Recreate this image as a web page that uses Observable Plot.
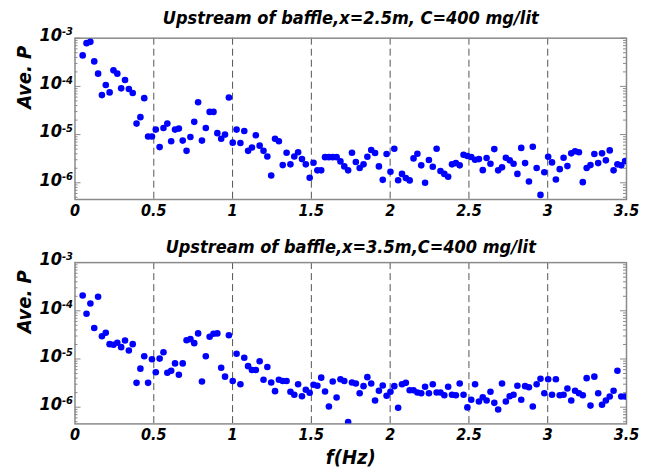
<!DOCTYPE html>
<html><head><meta charset="utf-8">
<script src="https://cdn.jsdelivr.net/npm/d3@7"></script>
<script src="https://cdn.jsdelivr.net/npm/@observablehq/plot@0.6"></script>
<style>
html,body{margin:0;padding:0;background:#fff;overflow:hidden}
#chart svg{display:block}
</style>
</head><body><div id="chart"></div>
<script>
const freq = [0.0488,0.0732,0.0977,0.1221,0.1465,0.1709,0.1953,0.2197,0.2441,0.2686,
0.2930,0.3174,0.3418,0.3662,0.3906,0.4150,0.4395,0.4639,0.4883,0.5127,
0.5371,0.5615,0.5859,0.6104,0.6348,0.6592,0.6836,0.7080,0.7324,0.7568,
0.7813,0.8057,0.8301,0.8545,0.8789,0.9033,0.9277,0.9521,0.9766,1.0010,
1.0254,1.0498,1.0742,1.0986,1.1230,1.1475,1.1719,1.1963,1.2207,1.2451,
1.2695,1.2939,1.3184,1.3428,1.3672,1.3916,1.4160,1.4404,1.4648,1.4893,
1.5137,1.5381,1.5625,1.5869,1.6113,1.6357,1.6602,1.6846,1.7090,1.7334,
1.7578,1.7822,1.8066,1.8311,1.8555,1.8799,1.9043,1.9287,1.9531,1.9775,
2.0020,2.0264,2.0508,2.0752,2.0996,2.1240,2.1484,2.1729,2.1973,2.2217,
2.2461,2.2705,2.2949,2.3193,2.3438,2.3682,2.3926,2.4170,2.4414,2.4658,
2.4902,2.5146,2.5391,2.5635,2.5879,2.6123,2.6367,2.6611,2.6855,2.7100,
2.7344,2.7588,2.7832,2.8076,2.8320,2.8564,2.8809,2.9053,2.9297,2.9541,
2.9785,3.0029,3.0273,3.0518,3.0762,3.1006,3.1250,3.1494,3.1738,3.1982,
3.2227,3.2471,3.2715,3.2959,3.3203,3.3447,3.3691,3.3936,3.4180,3.4424,
3.4668,3.4912];

const pX25 = [4.4e-4,7.9e-4,8.4e-4,3.3e-4,1.84e-4,6.6e-5,1.07e-4,7.5e-5,2.15e-4,1.84e-4,
9.1e-5,1.36e-4,8.8e-5,7.3e-5,1.69e-5,2.3e-5,5.7e-5,9.1e-6,9.1e-6,1.27e-5,
5.5e-6,1.37e-5,1.69e-5,7.3e-6,1.27e-5,1.33e-5,7.5e-6,4.6e-6,8.9e-6,1.84e-5,
4.7e-5,7.5e-6,1.37e-5,2.96e-5,2.96e-5,1.07e-5,8.2e-6,1.0e-5,5.9e-5,6.8e-6,
1.27e-5,6.7e-6,1.19e-5,4.6e-6,5.4e-6,9.7e-6,5.9e-6,4.6e-6,3.5e-6,1.42e-6,
8.2e-6,7.3e-6,2.33e-6,4.2e-6,2.41e-6,3.5e-6,4.3e-6,3.1e-6,2.41e-6,1.27e-6,
2.6e-6,1.81e-6,1.81e-6,3.4e-6,3.4e-6,3.4e-6,3.4e-6,2.78e-6,2.19e-6,1.81e-6,
4.2e-6,2.69e-6,2.02e-6,2.41e-6,3.47e-6,4.8e-6,4.14e-6,2.19e-6,1.15e-6,3.95e-6,
1.69e-6,5.1e-6,1.13e-6,1.53e-6,1.25e-6,1.12e-6,3.21e-6,4.0e-6,2.30e-6,1.0e-6,
2.96e-6,2.15e-6,5.1e-6,1.75e-6,1.53e-6,1.33e-6,2.41e-6,2.56e-6,2.30e-6,3.82e-6,
3.59e-6,3.42e-6,3.0e-6,3.1e-6,1.83e-6,3.26e-6,2.48e-6,5.0e-6,1.81e-6,2.09e-6,
3.31e-6,2.92e-6,2.48e-6,1.53e-6,5.3e-6,2.56e-6,1.06e-6,5.6e-6,2.02e-6,5.6e-7,
1.66e-6,3.47e-6,2.65e-6,1.17e-6,1.92e-6,3.31e-6,2.22e-6,4.08e-6,4.5e-6,4.3e-6,
1.03e-6,2.02e-6,2.33e-6,3.95e-6,2.56e-6,4.08e-6,2.92e-6,4.7e-6,1.81e-6,2.41e-6,
2.30e-6,2.82e-6];

const pX35 = [2.08e-4,8.7e-5,1.42e-4,4.4e-5,1.95e-4,2.97e-5,3.5e-5,2.03e-5,1.97e-5,2.17e-5,
1.76e-5,2.42e-5,1.50e-5,2.03e-5,3.2e-6,6.3e-6,1.14e-5,3.2e-6,9.9e-6,5.3e-6,
1.02e-5,1.38e-5,5.2e-6,5.7e-6,8.1e-6,4.7e-6,8.1e-6,2.45e-5,2.58e-5,2.13e-5,
3.4e-5,3.4e-6,1.14e-5,2.89e-5,3.33e-5,3.4e-5,6.6e-6,4.3e-6,3.1e-5,3.5e-6,
1.28e-5,3.0e-6,1.06e-5,7.1e-6,5.9e-6,5.9e-6,9.0e-6,3.7e-6,6.8e-6,3.25e-6,
2.15e-6,3.7e-6,3.5e-6,3.5e-6,2.09e-6,1.81e-6,3.0e-6,1.69e-6,2.30e-6,1.99e-6,
2.92e-6,2.78e-6,4.1e-6,2.12e-6,1.03e-6,3.4e-6,1.59e-6,3.8e-6,3.5e-6,4.9e-7,
3.25e-6,3.1e-6,1.95e-6,2.73e-6,4.2e-6,3.1e-6,1.38e-6,2.19e-6,2.82e-6,1.73e-6,
2.09e-6,2.73e-6,9.7e-7,3.0e-6,3.2e-6,2.25e-6,2.25e-6,2.02e-6,1.95e-6,2.65e-6,
1.95e-6,3.0e-6,2.02e-6,2.02e-6,1.77e-6,2.65e-6,1.81e-6,1.77e-6,3.1e-6,1.81e-6,
9.9e-7,1.43e-6,3.0e-6,1.31e-6,1.61e-6,1.38e-6,2.09e-6,1.23e-6,8.95e-7,3.1e-6,
1.31e-6,1.69e-6,1.81e-6,2.78e-6,1.43e-6,2.73e-6,2.6e-6,1.03e-6,3.0e-6,3.9e-6,
1.95e-6,3.8e-6,1.81e-6,3.8e-6,1.77e-6,1.81e-6,2.44e-6,1.38e-6,2.19e-6,1.95e-6,
1.77e-6,4.0e-6,1.08e-6,4.3e-6,1.95e-6,1.12e-6,1.38e-6,1.67e-6,2.19e-6,5.7e-6,
1.67e-6,1.67e-6];

const xTicks = [0, 0.5, 1, 1.5, 2, 2.5, 3, 3.5];
const gridX = [0.5, 1, 1.5, 2, 2.5, 3];
const yTicks = [1e-6, 1e-5, 1e-4, 1e-3];
const yDomain = [4.5e-7, 1e-3];
const titles = ["Upstream of baffle,x=2.5m, C=400 mg/lit", "Upstream of baffle,x=3.5m,C=400 mg/lit"];
const yLabel = "Ave. P";
const xLabel = "f(Hz)";

const FONT = "'Liberation Sans Narrow','DejaVu Sans Condensed','Arial Narrow',sans-serif";
const frameColor = "#8a8a8a";
const W = 649, H = 236, ML = 74.5, MR = 23;
const plotW = W - ML - MR;
const minor = d3.scaleLog().domain(yDomain).ticks();
const minorOnly = minor.filter(d => !yTicks.some(t => Math.abs(t - d) / t < 1e-9));

function panel(values, title, mt, mb, titleDy, showX) {
  const data = freq.map((f, i) => ({f, p: values[i]}));
  const marks = [
    Plot.ruleX(gridX, {stroke: "#555", strokeDasharray: "7,4", strokeWidth: 1}),
    Plot.tickY(minorOnly, {y: d => d, stroke: frameColor, insetRight: plotW - 3}),
    Plot.tickY(minorOnly, {y: d => d, stroke: frameColor, insetLeft: plotW - 3}),
    Plot.tickY(yTicks, {y: d => d, stroke: frameColor, insetRight: plotW - 6}),
    Plot.tickY(yTicks, {y: d => d, stroke: frameColor, insetLeft: plotW - 6}),
    Plot.frame({stroke: frameColor, strokeWidth: 1.5}),
    Plot.axisY({anchor: "left", ticks: yTicks, tickSize: 0, tickPadding: 2,
      tickFormat: d => "10^" + Math.round(Math.log10(d)), label: null}),
    Plot.axisX({anchor: "bottom", ticks: xTicks, tickSize: 0, tickPadding: 5,
      tickFormat: d => String(d), label: null}),
    Plot.dot(data, {x: "f", y: "p", r: 3.3, fill: "#0000ff", stroke: "none", clip: true}),
    Plot.text([title], {text: d => d, frameAnchor: "top", dy: titleDy, lineAnchor: "middle", fontSize: 18}),
    Plot.text([yLabel], {text: d => d, frameAnchor: "left", rotate: -90, dx: -50, dy: -10, fontSize: 20, lineAnchor: "middle"})
  ];
  if (showX) marks.push(Plot.text([xLabel], {text: d => d, frameAnchor: "bottom", dy: 34, lineAnchor: "middle", fontSize: 20}));
  const svg = Plot.plot({
    width: W, height: H,
    marginLeft: ML, marginRight: MR, marginTop: mt, marginBottom: mb,
    style: {fontFamily: FONT, fontWeight: "bold", fontStyle: "italic", color: "#000", background: "#fff"},
    x: {domain: [0, 3.5], label: null},
    y: {type: "log", domain: yDomain, label: null},
    marks
  });
  const s = d3.select(svg);
  s.selectAll('g[aria-label="y-axis tick label"]').attr("font-size", null).style("font-size", "18px");
  s.selectAll('g[aria-label="y-axis tick label"] text').each(function () {
    const str = this.textContent;
    const parts = str.split("^");
    const t = d3.select(this);
    t.style("font-size", "18px").attr("dy", -3);
    t.text("");
    t.append("tspan").text(parts[0]);
    t.append("tspan").attr("dy", "-0.5em").style("font-size", "11px").text(parts[1]);
  });
  s.selectAll('g[aria-label="x-axis tick label"]').attr("font-size", null).style("font-size", "16px");
  s.selectAll('g[aria-label="x-axis tick label"] text').style("font-size", "16px");
  return svg;
}

const root = document.getElementById("chart");
root.appendChild(panel(pX25, titles[0], 37.7, 37, -20.2, false));
root.appendChild(panel(pX35, titles[1], 26.1, 48.6, -15.4, true));
</script>
</body></html>
